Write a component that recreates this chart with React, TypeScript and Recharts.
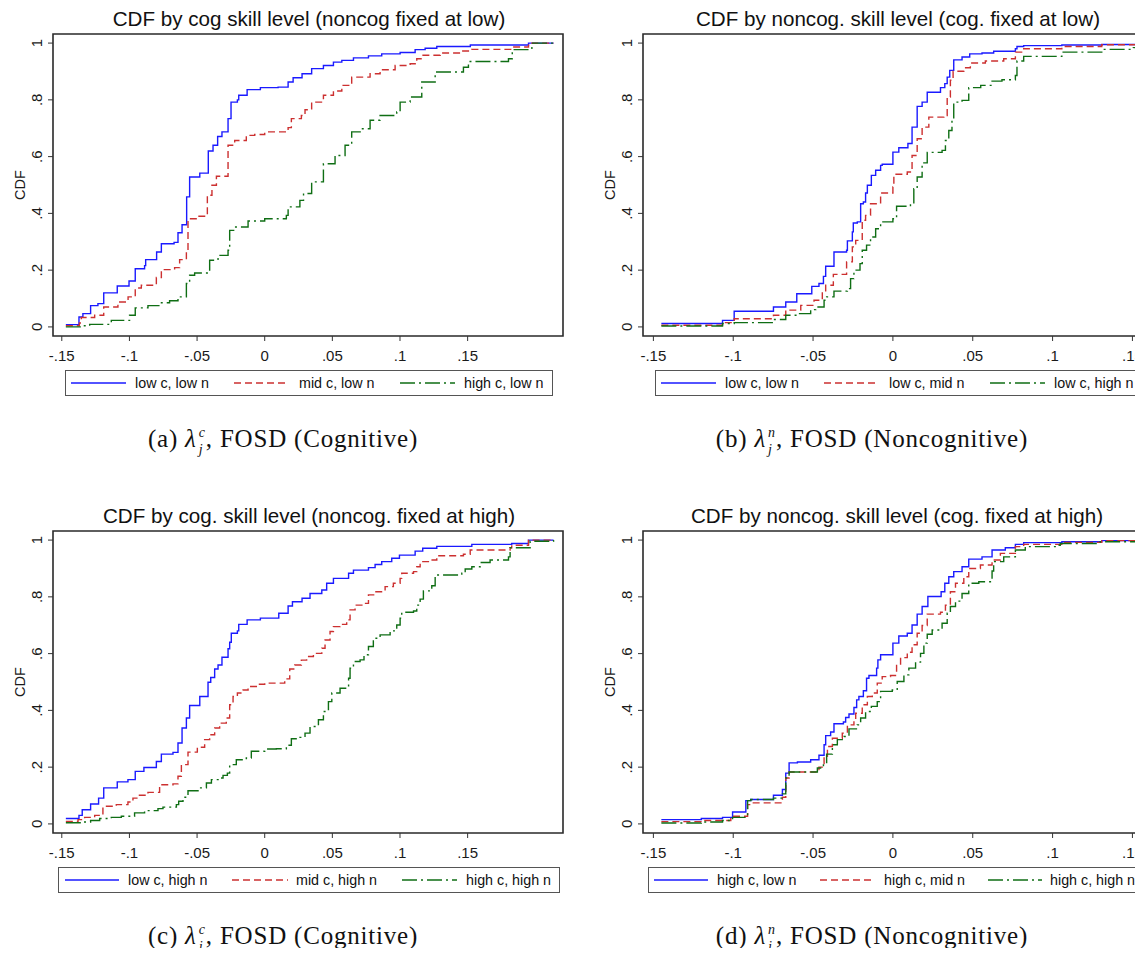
import React from "react";
import { LineChart, Line, XAxis, YAxis, ReferenceArea } from "recharts";

type Pt = [number, number];

// x grid and y grid shared by all four panels
const xTicks = [-0.15, -0.1, -0.05, 0, 0.05, 0.1, 0.15];
const yTicks = [0, 0.2, 0.4, 0.6, 0.8, 1];
const X_MIN = -0.1565;
const X_MAX = 0.2205;
const Y_MIN = -0.032;
const Y_MAX = 1.032;

// (a) cog level, noncog fixed at low
const aLowC: Pt[] = [[-0.147, 0.008], [-0.1373, 0.035], [-0.1344, 0.047], [-0.1287, 0.075], [-0.1233, 0.082], [-0.119, 0.12], [-0.109, 0.144], [-0.1003, 0.162], [-0.0957, 0.205], [-0.0888, 0.216], [-0.088, 0.237], [-0.0799, 0.264], [-0.0764, 0.293], [-0.067, 0.298], [-0.0641, 0.332], [-0.0611, 0.36], [-0.0577, 0.458], [-0.0555, 0.528], [-0.048, 0.542], [-0.0417, 0.62], [-0.0382, 0.64], [-0.0348, 0.671], [-0.0316, 0.687], [-0.0271, 0.734], [-0.0249, 0.792], [-0.0202, 0.8], [-0.0192, 0.816], [-0.013, 0.836], [-0.0032, 0.843], [0.0099, 0.845], [0.0173, 0.863], [0.021, 0.878], [0.0276, 0.892], [0.0347, 0.91], [0.0434, 0.921], [0.0508, 0.933], [0.057, 0.939], [0.0656, 0.948], [0.0767, 0.955], [0.0865, 0.962], [0.1001, 0.967], [0.1112, 0.977], [0.1186, 0.982], [0.1272, 0.988], [0.152, 0.993], [0.195, 1.0], [0.2135, 1.0]];
const aMidC: Pt[] = [[-0.147, 0.004], [-0.137, 0.014], [-0.1356, 0.033], [-0.1257, 0.041], [-0.119, 0.07], [-0.1085, 0.088], [-0.101, 0.106], [-0.0957, 0.137], [-0.0912, 0.147], [-0.0801, 0.174], [-0.0764, 0.202], [-0.0666, 0.209], [-0.0629, 0.237], [-0.0579, 0.266], [-0.0567, 0.381], [-0.0493, 0.39], [-0.0424, 0.464], [-0.039, 0.499], [-0.0357, 0.531], [-0.0271, 0.64], [-0.0222, 0.657], [-0.0136, 0.675], [-0.0074, 0.678], [0.0, 0.687], [0.0173, 0.702], [0.0197, 0.734], [0.0271, 0.745], [0.0298, 0.765], [0.0347, 0.792], [0.0434, 0.816], [0.0508, 0.831], [0.057, 0.851], [0.0643, 0.88], [0.0779, 0.892], [0.0853, 0.906], [0.0964, 0.921], [0.1075, 0.927], [0.1124, 0.945], [0.1161, 0.957], [0.1297, 0.965], [0.1445, 0.972], [0.153, 0.978], [0.183, 0.986], [0.195, 1.0], [0.2135, 1.0]];
const aHighC: Pt[] = [[-0.147, 0.0], [-0.1356, 0.004], [-0.1294, 0.009], [-0.1134, 0.023], [-0.0999, 0.041], [-0.0957, 0.067], [-0.0863, 0.075], [-0.0777, 0.085], [-0.0703, 0.092], [-0.0641, 0.106], [-0.0579, 0.153], [-0.0555, 0.182], [-0.0518, 0.19], [-0.0407, 0.235], [-0.0345, 0.252], [-0.0271, 0.27], [-0.0259, 0.34], [-0.0222, 0.352], [-0.0123, 0.373], [0.0, 0.381], [0.016, 0.393], [0.0173, 0.423], [0.026, 0.446], [0.0287, 0.47], [0.0347, 0.511], [0.0434, 0.575], [0.052, 0.604], [0.0594, 0.64], [0.0643, 0.687], [0.0717, 0.698], [0.0779, 0.728], [0.0853, 0.745], [0.0976, 0.757], [0.1001, 0.792], [0.1075, 0.81], [0.1161, 0.863], [0.126, 0.898], [0.1469, 0.915], [0.1506, 0.935], [0.1802, 0.945], [0.183, 0.977], [0.1975, 1.0], [0.2135, 1.0]];

// (b) noncog level, cog fixed at low
const bLowN: Pt[] = [[-0.145, 0.012], [-0.1067, 0.023], [-0.0994, 0.055], [-0.0748, 0.07], [-0.0671, 0.088], [-0.0602, 0.117], [-0.0508, 0.143], [-0.0463, 0.153], [-0.0435, 0.178], [-0.0421, 0.214], [-0.0369, 0.264], [-0.029, 0.27], [-0.0285, 0.303], [-0.0254, 0.335], [-0.0248, 0.366], [-0.0223, 0.37], [-0.0202, 0.434], [-0.0185, 0.44], [-0.0171, 0.472], [-0.016, 0.499], [-0.0135, 0.534], [-0.0108, 0.552], [-0.0077, 0.569], [-0.0067, 0.573], [0.0, 0.616], [0.0037, 0.631], [0.0094, 0.646], [0.012, 0.704], [0.0152, 0.777], [0.0183, 0.792], [0.0215, 0.827], [0.0298, 0.843], [0.0325, 0.857], [0.034, 0.88], [0.0356, 0.904], [0.0381, 0.941], [0.0433, 0.951], [0.0481, 0.962], [0.0558, 0.965], [0.0631, 0.971], [0.0767, 0.98], [0.0777, 0.988], [0.0819, 0.991], [0.1058, 0.993], [0.1308, 0.995], [0.156, 0.998], [0.18, 1.0], [0.2135, 1.0]];
const bMidN: Pt[] = [[-0.145, 0.006], [-0.1067, 0.015], [-0.0994, 0.029], [-0.0748, 0.041], [-0.0671, 0.059], [-0.0577, 0.076], [-0.0494, 0.094], [-0.0442, 0.123], [-0.0421, 0.147], [-0.0373, 0.185], [-0.029, 0.229], [-0.0254, 0.282], [-0.0233, 0.305], [-0.0192, 0.376], [-0.0171, 0.393], [-0.014, 0.434], [-0.0077, 0.472], [0.0, 0.493], [0.0006, 0.538], [0.009, 0.546], [0.012, 0.604], [0.0152, 0.663], [0.0183, 0.704], [0.0225, 0.739], [0.0319, 0.745], [0.034, 0.81], [0.036, 0.869], [0.0377, 0.901], [0.0444, 0.913], [0.0485, 0.93], [0.0579, 0.937], [0.0694, 0.945], [0.0767, 0.968], [0.0819, 0.98], [0.1058, 0.988], [0.1308, 0.994], [0.156, 0.995], [0.19, 1.0], [0.2135, 1.0]];
const bHighN: Pt[] = [[-0.145, 0.003], [-0.1067, 0.012], [-0.0994, 0.015], [-0.0748, 0.026], [-0.0671, 0.041], [-0.0598, 0.047], [-0.0515, 0.061], [-0.0483, 0.07], [-0.0431, 0.094], [-0.0415, 0.106], [-0.0369, 0.126], [-0.0285, 0.135], [-0.0265, 0.17], [-0.0244, 0.2], [-0.0206, 0.223], [-0.0192, 0.27], [-0.0165, 0.288], [-0.014, 0.317], [-0.0108, 0.346], [-0.0077, 0.37], [0.0, 0.381], [0.0023, 0.425], [0.011, 0.434], [0.0131, 0.487], [0.0152, 0.528], [0.0183, 0.578], [0.0215, 0.615], [0.0308, 0.622], [0.0329, 0.657], [0.035, 0.692], [0.037, 0.734], [0.0381, 0.792], [0.0433, 0.798], [0.0475, 0.843], [0.055, 0.851], [0.0621, 0.866], [0.0683, 0.871], [0.0767, 0.886], [0.0777, 0.937], [0.0819, 0.953], [0.1058, 0.968], [0.1308, 0.978], [0.1506, 0.984], [0.19, 0.995], [0.2135, 1.0]];

// (c) cog level, noncog fixed at high
const cLowC: Pt[] = [[-0.147, 0.019], [-0.1373, 0.03], [-0.1349, 0.05], [-0.1287, 0.07], [-0.1228, 0.091], [-0.119, 0.127], [-0.109, 0.148], [-0.1011, 0.156], [-0.0957, 0.185], [-0.0893, 0.199], [-0.0801, 0.22], [-0.0764, 0.246], [-0.0678, 0.252], [-0.0641, 0.285], [-0.0611, 0.338], [-0.0579, 0.373], [-0.0555, 0.417], [-0.048, 0.449], [-0.0419, 0.499], [-0.0399, 0.516], [-0.037, 0.546], [-0.0345, 0.56], [-0.0316, 0.587], [-0.0271, 0.617], [-0.0259, 0.64], [-0.0247, 0.672], [-0.0202, 0.68], [-0.0192, 0.703], [-0.013, 0.719], [-0.0032, 0.725], [0.0104, 0.742], [0.0173, 0.768], [0.0205, 0.783], [0.0276, 0.795], [0.0335, 0.812], [0.0422, 0.824], [0.0458, 0.848], [0.0508, 0.865], [0.062, 0.883], [0.0656, 0.894], [0.0767, 0.903], [0.0816, 0.914], [0.0865, 0.924], [0.0939, 0.936], [0.0996, 0.947], [0.1112, 0.961], [0.1168, 0.971], [0.1272, 0.978], [0.1531, 0.985], [0.1826, 0.988], [0.195, 1.0], [0.2135, 1.0]];
const cMidC: Pt[] = [[-0.147, 0.009], [-0.138, 0.015], [-0.1331, 0.023], [-0.1257, 0.03], [-0.1196, 0.062], [-0.1097, 0.068], [-0.1011, 0.077], [-0.0974, 0.091], [-0.0937, 0.101], [-0.0863, 0.111], [-0.0777, 0.138], [-0.0678, 0.141], [-0.0641, 0.168], [-0.0616, 0.209], [-0.0567, 0.253], [-0.0498, 0.27], [-0.0444, 0.297], [-0.0407, 0.314], [-0.037, 0.338], [-0.0333, 0.355], [-0.0284, 0.373], [-0.0259, 0.42], [-0.0234, 0.449], [-0.0202, 0.461], [-0.016, 0.472], [-0.0123, 0.484], [-0.0054, 0.492], [0.0, 0.496], [0.0148, 0.511], [0.0185, 0.546], [0.0222, 0.56], [0.0271, 0.577], [0.031, 0.59], [0.036, 0.601], [0.0422, 0.619], [0.0446, 0.648], [0.0483, 0.678], [0.0508, 0.695], [0.0557, 0.703], [0.0606, 0.719], [0.0631, 0.754], [0.0668, 0.771], [0.073, 0.777], [0.0767, 0.807], [0.0816, 0.818], [0.089, 0.836], [0.0951, 0.848], [0.1001, 0.865], [0.1013, 0.883], [0.11, 0.889], [0.1124, 0.906], [0.1149, 0.924], [0.121, 0.93], [0.1272, 0.945], [0.1469, 0.95], [0.1519, 0.965], [0.1814, 0.973], [0.1826, 0.982], [0.195, 1.0], [0.2135, 1.0]];
const cHighC: Pt[] = [[-0.147, 0.004], [-0.1356, 0.007], [-0.1287, 0.012], [-0.122, 0.019], [-0.1134, 0.023], [-0.106, 0.027], [-0.0962, 0.039], [-0.0888, 0.047], [-0.0789, 0.054], [-0.0752, 0.059], [-0.0653, 0.068], [-0.0636, 0.08], [-0.0604, 0.094], [-0.0567, 0.117], [-0.0493, 0.127], [-0.0431, 0.144], [-0.0394, 0.156], [-0.0345, 0.162], [-0.0308, 0.171], [-0.0276, 0.179], [-0.0259, 0.209], [-0.021, 0.226], [-0.0136, 0.232], [-0.0099, 0.256], [0.0, 0.264], [0.0086, 0.265], [0.016, 0.277], [0.0197, 0.3], [0.026, 0.305], [0.0298, 0.32], [0.0335, 0.343], [0.0397, 0.367], [0.0434, 0.396], [0.0471, 0.431], [0.0496, 0.461], [0.0557, 0.478], [0.062, 0.513], [0.0631, 0.549], [0.0656, 0.572], [0.0705, 0.578], [0.0734, 0.596], [0.0767, 0.625], [0.0803, 0.654], [0.0853, 0.666], [0.0927, 0.68], [0.0976, 0.701], [0.1001, 0.725], [0.1013, 0.746], [0.11, 0.75], [0.1124, 0.771], [0.1149, 0.792], [0.1173, 0.821], [0.1235, 0.839], [0.126, 0.877], [0.1457, 0.883], [0.1482, 0.898], [0.1531, 0.906], [0.1593, 0.921], [0.1666, 0.93], [0.1802, 0.941], [0.1814, 0.973], [0.1962, 0.996], [0.2135, 1.0]];

// (d) noncog level, cog fixed at high
const dLowN: Pt[] = [[-0.145, 0.015], [-0.12, 0.019], [-0.1067, 0.023], [-0.1004, 0.042], [-0.0921, 0.082], [-0.089, 0.086], [-0.0748, 0.101], [-0.0692, 0.121], [-0.0671, 0.179], [-0.065, 0.215], [-0.0598, 0.218], [-0.0515, 0.226], [-0.0463, 0.242], [-0.0431, 0.279], [-0.0421, 0.311], [-0.039, 0.324], [-0.0369, 0.353], [-0.031, 0.359], [-0.0296, 0.375], [-0.0275, 0.387], [-0.0244, 0.41], [-0.0227, 0.437], [-0.0213, 0.449], [-0.0185, 0.469], [-0.0165, 0.513], [-0.015, 0.523], [-0.0102, 0.549], [-0.0094, 0.578], [-0.0077, 0.596], [0.0, 0.637], [0.0037, 0.662], [0.009, 0.672], [0.012, 0.701], [0.0152, 0.739], [0.0183, 0.766], [0.0219, 0.801], [0.0302, 0.818], [0.0325, 0.848], [0.035, 0.871], [0.0381, 0.889], [0.0433, 0.906], [0.0475, 0.933], [0.0558, 0.941], [0.0621, 0.965], [0.0704, 0.973], [0.0767, 0.985], [0.0819, 0.991], [0.1058, 0.994], [0.1308, 0.998], [0.17, 1.0], [0.2135, 1.0]];
const dMidN: Pt[] = [[-0.145, 0.008], [-0.12, 0.012], [-0.1015, 0.021], [-0.1004, 0.027], [-0.091, 0.068], [-0.089, 0.074], [-0.0692, 0.094], [-0.0671, 0.162], [-0.065, 0.183], [-0.0463, 0.2], [-0.0431, 0.238], [-0.041, 0.273], [-0.0379, 0.302], [-0.0317, 0.32], [-0.0285, 0.349], [-0.0244, 0.367], [-0.0233, 0.39], [-0.0192, 0.42], [-0.016, 0.449], [-0.0129, 0.461], [-0.0098, 0.496], [-0.0067, 0.519], [-0.0015, 0.523], [0.0023, 0.558], [0.0048, 0.586], [0.009, 0.605], [0.012, 0.631], [0.0152, 0.672], [0.0183, 0.699], [0.0215, 0.739], [0.0298, 0.746], [0.0329, 0.771], [0.036, 0.818], [0.0392, 0.848], [0.0444, 0.871], [0.0475, 0.9], [0.0548, 0.912], [0.0621, 0.93], [0.0673, 0.953], [0.0767, 0.977], [0.0819, 0.985], [0.1058, 0.992], [0.1308, 0.998], [0.17, 1.0], [0.2135, 1.0]];
const dHighN: Pt[] = [[-0.145, 0.003], [-0.12, 0.007], [-0.1067, 0.012], [-0.1004, 0.023], [-0.091, 0.082], [-0.089, 0.086], [-0.0748, 0.091], [-0.0692, 0.106], [-0.0671, 0.162], [-0.065, 0.183], [-0.0473, 0.197], [-0.0435, 0.211], [-0.0415, 0.246], [-0.0379, 0.279], [-0.0348, 0.297], [-0.0306, 0.308], [-0.0275, 0.335], [-0.0223, 0.349], [-0.0202, 0.373], [-0.0171, 0.396], [-0.0135, 0.414], [-0.0098, 0.431], [-0.0077, 0.467], [-0.0004, 0.472], [0.0027, 0.502], [0.0069, 0.525], [0.01, 0.549], [0.0142, 0.57], [0.0173, 0.601], [0.0194, 0.637], [0.0215, 0.668], [0.0246, 0.683], [0.0308, 0.707], [0.034, 0.742], [0.036, 0.766], [0.0392, 0.785], [0.0433, 0.812], [0.0475, 0.848], [0.0538, 0.853], [0.0621, 0.891], [0.0631, 0.924], [0.0694, 0.941], [0.0767, 0.965], [0.0829, 0.977], [0.1027, 0.982], [0.1048, 0.988], [0.1298, 0.994], [0.17, 0.998], [0.2135, 1.0]];

const SANS = "'Liberation Sans', Arial, sans-serif";
const SERIF = "'Liberation Serif', 'Times New Roman', serif";
const BLUE = "#1a1aff";
const RED = "#cc3030";
const GREEN = "#0f6e14";
const styles = [
  { color: BLUE, dash: undefined as string | undefined },
  { color: RED, dash: "7 4" },
  { color: GREEN, dash: "15 4 2 4" },
];

const fmt = (v: number) => (v === 0 ? "0" : String(v).replace(/^(-?)0\./, "$1."));

const XTick = (props: any) => {
  const { x, y, payload } = props;
  return (
    <text x={x} y={y + 18} textAnchor="middle" fontSize={15} fontFamily={SANS} fill="#1a1a1a">
      {fmt(payload.value)}
    </text>
  );
};

const YTick = (props: any) => {
  const { x, y, payload } = props;
  return (
    <text x={x - 6} y={y} transform={`rotate(-90 ${x - 6} ${y})`} textAnchor="middle" fontSize={15} fontFamily={SANS} fill="#1a1a1a">
      {fmt(payload.value)}
    </text>
  );
};

type PanelProps = {
  left: number;
  top: number;
  width: number;
  title: string;
  titleX: number;
  names: string[];
  series: Pt[][];
  legend: { box: [number, number]; items: [number, number, number][] };
  tag: string;
  sup: string;
  tail: string;
  capX: number;
};

function Panel({ left, top, width, title, titleX, names, series, legend, tag, sup, tail, capX }: PanelProps) {
  const legTop = top + 370;
  const midY = top + 34 + 151;
  return (
    <>
      <div style={{ position: "absolute", left: titleX, top: top + 19, transform: "translate(-50%, -50%)", fontFamily: SANS, fontSize: 20.6, lineHeight: 1, whiteSpace: "nowrap", color: "#111" }}>
        {title}
      </div>
      <div style={{ position: "absolute", left: left + 20, top: midY, transform: "translate(-50%, -50%) rotate(-90deg)", fontFamily: SANS, fontSize: 14.5, lineHeight: 1, color: "#1a1a1a" }}>
        CDF
      </div>
      <div style={{ position: "absolute", left, top }}>
        <LineChart width={width} height={370} margin={{ top: 34, right: 7, bottom: 4, left: 23 }}>
          <XAxis type="number" dataKey="x" domain={[X_MIN, X_MAX]} ticks={xTicks} tick={XTick} tickSize={5} tickLine={{ stroke: "#333" }} axisLine={false} height={30} allowDataOverflow interval={0} />
          <YAxis type="number" dataKey="y" domain={[Y_MIN, Y_MAX]} ticks={yTicks} tick={YTick} tickSize={5} tickMargin={0} tickLine={{ stroke: "#333" }} axisLine={false} width={30} allowDataOverflow interval={0} />
          <ReferenceArea x1={X_MIN} x2={X_MAX} y1={Y_MIN} y2={Y_MAX} fill="none" fillOpacity={0} stroke="#2a2a2a" strokeWidth={1.6} />
          {series.map((d, i) => (
            <Line
              key={names[i]}
              name={names[i]}
              data={d.map(([x, y]) => ({ x, y }))}
              dataKey="y"
              type="stepAfter"
              stroke={styles[i].color}
              strokeWidth={1.4}
              strokeDasharray={styles[i].dash}
              dot={false}
              isAnimationActive={false}
            />
          ))}
        </LineChart>
      </div>
      <div style={{ position: "absolute", left: legend.box[0], top: legTop, width: legend.box[1] - legend.box[0], height: 26, border: "1px solid #555", boxSizing: "border-box", background: "#fff" }} />
      {legend.items.map(([x1, x2, tx], i) => (
        <React.Fragment key={names[i]}>
          <svg style={{ position: "absolute", left: x1, top: legTop + 10 }} width={x2 - x1} height={6}>
            <line x1={0} y1={3} x2={x2 - x1} y2={3} stroke={styles[i].color} strokeWidth={1.6} strokeDasharray={styles[i].dash} />
          </svg>
          <div style={{ position: "absolute", left: tx, top: legTop + 13, transform: "translateY(-50%)", fontFamily: SANS, fontSize: 14.3, lineHeight: 1, whiteSpace: "nowrap", color: "#111" }}>
            {names[i]}
          </div>
        </React.Fragment>
      ))}
      <div style={{ position: "absolute", left: capX, top: top + 441, transform: "translate(-50%, -50%)", fontFamily: SERIF, fontSize: 25, letterSpacing: 0.8, lineHeight: 1, whiteSpace: "nowrap", color: "#111" }}>
        {tag} <span style={{ fontStyle: "italic" }}>λ</span>
        <span style={{ display: "inline-flex", flexDirection: "column", verticalAlign: "middle", fontSize: 14, lineHeight: "17px", fontStyle: "italic", marginLeft: 2 }}>
          <span>{sup}</span>
          <span>j</span>
        </span>
        , {tail}
      </div>
    </>
  );
}

export default function App() {
  return (
    <div style={{ position: "relative", width: 1143, height: 956, overflow: "hidden", margin: -8, background: "#fff" }}>
      <Panel
        left={0}
        top={0}
        width={570}
        title="CDF by cog skill level (noncog fixed at low)"
        titleX={309}
        names={["low c, low n", "mid c, low n", "high c, low n"]}
        series={[aLowC, aMidC, aHighC]}
        legend={{ box: [65, 553], items: [[71, 126, 135], [234, 289, 299], [400, 455, 464]] }}
        tag="(a)"
        sup="c"
        tail="FOSD (Cognitive)"
        capX={283}
      />
      <Panel
        left={590}
        top={0}
        width={662}
        title="CDF by noncog. skill level (cog. fixed at low)"
        titleX={898}
        names={["low c, low n", "low c, mid n", "low c, high n"]}
        series={[bLowN, bMidN, bHighN]}
        legend={{ box: [655, 1141], items: [[661, 716, 725], [824, 879, 889], [990, 1045, 1054]] }}
        tag="(b)"
        sup="n"
        tail="FOSD (Noncognitive)"
        capX={872}
      />
      <Panel
        left={0}
        top={497}
        width={570}
        title="CDF by cog. skill level (noncog. fixed at high)"
        titleX={309}
        names={["low c, high n", "mid c, high n", "high c, high n"]}
        series={[cLowC, cMidC, cHighC]}
        legend={{ box: [58, 560], items: [[65, 119, 128], [232, 288, 296], [402, 457, 466]] }}
        tag="(c)"
        sup="c"
        tail="FOSD (Cognitive)"
        capX={283}
      />
      <Panel
        left={590}
        top={497}
        width={662}
        title="CDF by noncog. skill level (cog. fixed at high)"
        titleX={897}
        names={["high c, low n", "high c, mid n", "high c, high n"]}
        series={[dLowN, dMidN, dHighN]}
        legend={{ box: [648, 1150], items: [[654, 708, 717], [820, 875, 884], [988, 1042, 1050]] }}
        tag="(d)"
        sup="n"
        tail="FOSD (Noncognitive)"
        capX={872}
      />
    </div>
  );
}
